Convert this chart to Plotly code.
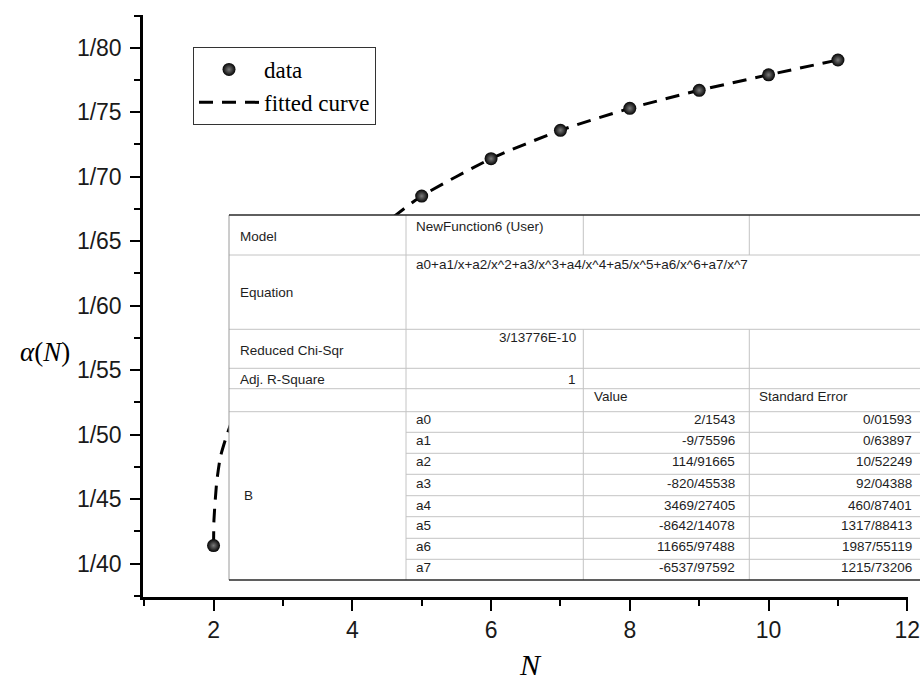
import plotly.graph_objects as go

# ---------------- data ----------------
N_data = [2, 3, 4, 5, 6, 7, 8, 9, 10, 11]
inv_alpha = [41.4, 58.6, 64.3, 68.5, 71.4, 73.6, 75.3, 76.7, 77.9, 79.05]

# fitted curve, values (hidden part estimated)
N_fit = [2.0, 2.006, 2.045, 2.1, 2.2, 2.4, 2.7, 3.0, 3.5, 4.0, 4.5, 5.0, 6.0, 7.0, 8.0, 9.0, 10.0, 11.0]
fit_val = [41.4, 43.4, 46.3, 48.3, 50.1, 53.0, 56.2, 58.6, 61.8, 64.3, 66.5, 68.5, 71.4, 73.6, 75.3, 76.7, 77.9, 79.05]

y_tick_vals = [40, 45, 50, 55, 60, 65, 70, 75, 80]
y_tick_text = ["1/40", "1/45", "1/50", "1/55", "1/60", "1/65", "1/70", "1/75", "1/80"]

# fit report table
model_name = "NewFunction6 (User)"
equation = "a0+a1/x+a2/x^2+a3/x^3+a4/x^4+a5/x^5+a6/x^6+a7/x^7"
chi_sqr = "3/13776E-10"
adj_r2 = "1"
param_names = ["a0", "a1", "a2", "a3", "a4", "a5", "a6", "a7"]
param_values = ["2/1543", "-9/75596", "114/91665", "-820/45538", "3469/27405",
                "-8642/14078", "11665/97488", "-6537/97592"]
param_errors = ["0/01593", "0/63897", "10/52249", "92/04388", "460/87401",
                "1317/88413", "1987/55119", "1215/73206"]

# ---------------- layout geometry (pixels) ----------------
W, H = 920, 686
L, R, T, B = 143, 12, 15, 89
PW, PH = W - L - R, H - T - B


def px(x):
    return (x - L) / PW


def py(y):
    return (H - B - y) / PH


fig = go.Figure()

fig.add_trace(go.Scatter(
    x=N_fit, y=fit_val, mode="lines", name="fitted curve",
    line=dict(color="black", width=3, dash="14px,9px", shape="spline", smoothing=0.6),
))
fig.add_trace(go.Scatter(
    x=N_data, y=inv_alpha, mode="markers", name="data",
    marker=dict(size=13, color="#030303", line=dict(width=0),
                gradient=dict(type="radial", color="#7a7a7a")),
))

shapes = []
TABLE_L, TABLE_R, TABLE_T, TABLE_B = 229, 925, 215, 580
C1, C2, C3 = 406, 583.3, 749.3
GRAY = "#c4c4c4"
DARK = "#2a2a2a"

# white background of the table, above traces
shapes.append(dict(type="rect", xref="paper", yref="paper", layer="above",
                   x0=px(TABLE_L), x1=px(TABLE_R), y0=py(TABLE_B), y1=py(TABLE_T),
                   fillcolor="white", line=dict(width=0)))


def hline(y, x0, x1, color=GRAY, w=1):
    shapes.append(dict(type="line", xref="paper", yref="paper", layer="above",
                       x0=px(x0), x1=px(x1), y0=py(y), y1=py(y),
                       line=dict(color=color, width=w)))


def vline(x, y0, y1, color=GRAY, w=1):
    shapes.append(dict(type="line", xref="paper", yref="paper", layer="above",
                       x0=px(x), x1=px(x), y0=py(y0), y1=py(y1),
                       line=dict(color=color, width=w)))


for yy in [255, 329.3, 368.3, 388.7, 411.7]:
    hline(yy, TABLE_L, TABLE_R)
for yy in [432.3, 453.3, 474.3, 495.7, 516.7, 538.3, 559.3]:
    hline(yy, C1, TABLE_R)
vline(TABLE_L, TABLE_T, TABLE_B, color="#9a9a9a")
vline(C1, TABLE_T, TABLE_B)
for xx in [C2, C3]:
    vline(xx, TABLE_T, 255)
    vline(xx, 329.3, TABLE_B)
hline(TABLE_T, TABLE_L, TABLE_R, color=DARK, w=1.6)
hline(TABLE_B, TABLE_L, TABLE_R, color=DARK, w=1.6)

annotations = []
TFONT = dict(family="Liberation Sans, Arial, sans-serif", size=13.5, color="#1e1e1e")


def txt(s, x, y, anchor="left", font=TFONT):
    annotations.append(dict(text=s, xref="paper", yref="paper", x=px(x), y=py(y),
                            xanchor=anchor, yanchor="middle", showarrow=False, font=font))


txt("Model", 237.7, 236.7)
txt(model_name, 414, 226.7)
txt("Equation", 237.7, 292.3)
txt(equation, 414, 264)
txt("Reduced Chi-Sqr", 237.7, 350.7)
txt(chi_sqr, 578, 337.3, "right")
txt("Adj. R-Square", 237.7, 379)
txt(adj_r2, 578, 379, "right")
txt("Value", 591.7, 396.7)
txt("Standard Error", 756.7, 396.7)
txt("B", 241.7, 495)
row_centers = [419.3, 440.3, 461.7, 483.3, 505, 525.7, 546.7, 567.7]
for name, val, err, yc in zip(param_names, param_values, param_errors, row_centers):
    txt(name, 414.3, yc)
    txt(val, 737, yc, "right")
    txt(err, 914, yc, "right")

# axis titles
annotations.append(dict(text="<i>α</i>(<i>N</i>)", xref="paper", yref="paper",
                        x=px(45), y=py(352), xanchor="center", yanchor="middle",
                        showarrow=False,
                        font=dict(family="Liberation Serif, Times New Roman, serif", size=27, color="black")))
annotations.append(dict(text="<i>N</i>", xref="paper", yref="paper",
                        x=px(530), y=py(664), xanchor="center", yanchor="middle",
                        showarrow=False,
                        font=dict(family="Liberation Serif, Times New Roman, serif", size=30, color="black")))

TICKFONT = dict(family="Liberation Sans, Arial, sans-serif", size=23, color="#1a1a1a")

fig.update_layout(
    width=W, height=H,
    margin=dict(l=L, r=R, t=T, b=B, pad=0, autoexpand=False),
    paper_bgcolor="white", plot_bgcolor="white",
    shapes=shapes, annotations=annotations,
    legend=dict(x=px(193), y=py(47), xanchor="left", yanchor="top",
                bordercolor="#333", borderwidth=1, bgcolor="white",
                font=dict(family="Liberation Serif, Times New Roman, serif", size=23, color="black"),
                traceorder="reversed", tracegroupgap=0, itemwidth=60),
    xaxis=dict(range=[0.983, 12.01], tickmode="linear", tick0=2, dtick=2,
               showline=True, linecolor="black", linewidth=2.5,
               ticks="outside", ticklen=11, tickwidth=2, tickcolor="black",
               minor=dict(ticks="outside", ticklen=6, tickwidth=2, tickcolor="black", tick0=1, dtick=1),
               showgrid=False, zeroline=False, tickfont=TICKFONT, ticklabeloverflow="allow",
               automargin=False),
    yaxis=dict(range=[37.41, 82.54], tickmode="array", tickvals=y_tick_vals, ticktext=y_tick_text,
               showline=True, linecolor="black", linewidth=2.5,
               ticks="outside", ticklen=10, tickwidth=2, tickcolor="black",
               minor=dict(ticks="outside", ticklen=6, tickwidth=2, tickcolor="black", tick0=37.5, dtick=2.5),
               showgrid=False, zeroline=False, tickfont=TICKFONT, ticklabelstandoff=4,
               automargin=False),
    showlegend=True,
)

fig.write_html("out.html")
